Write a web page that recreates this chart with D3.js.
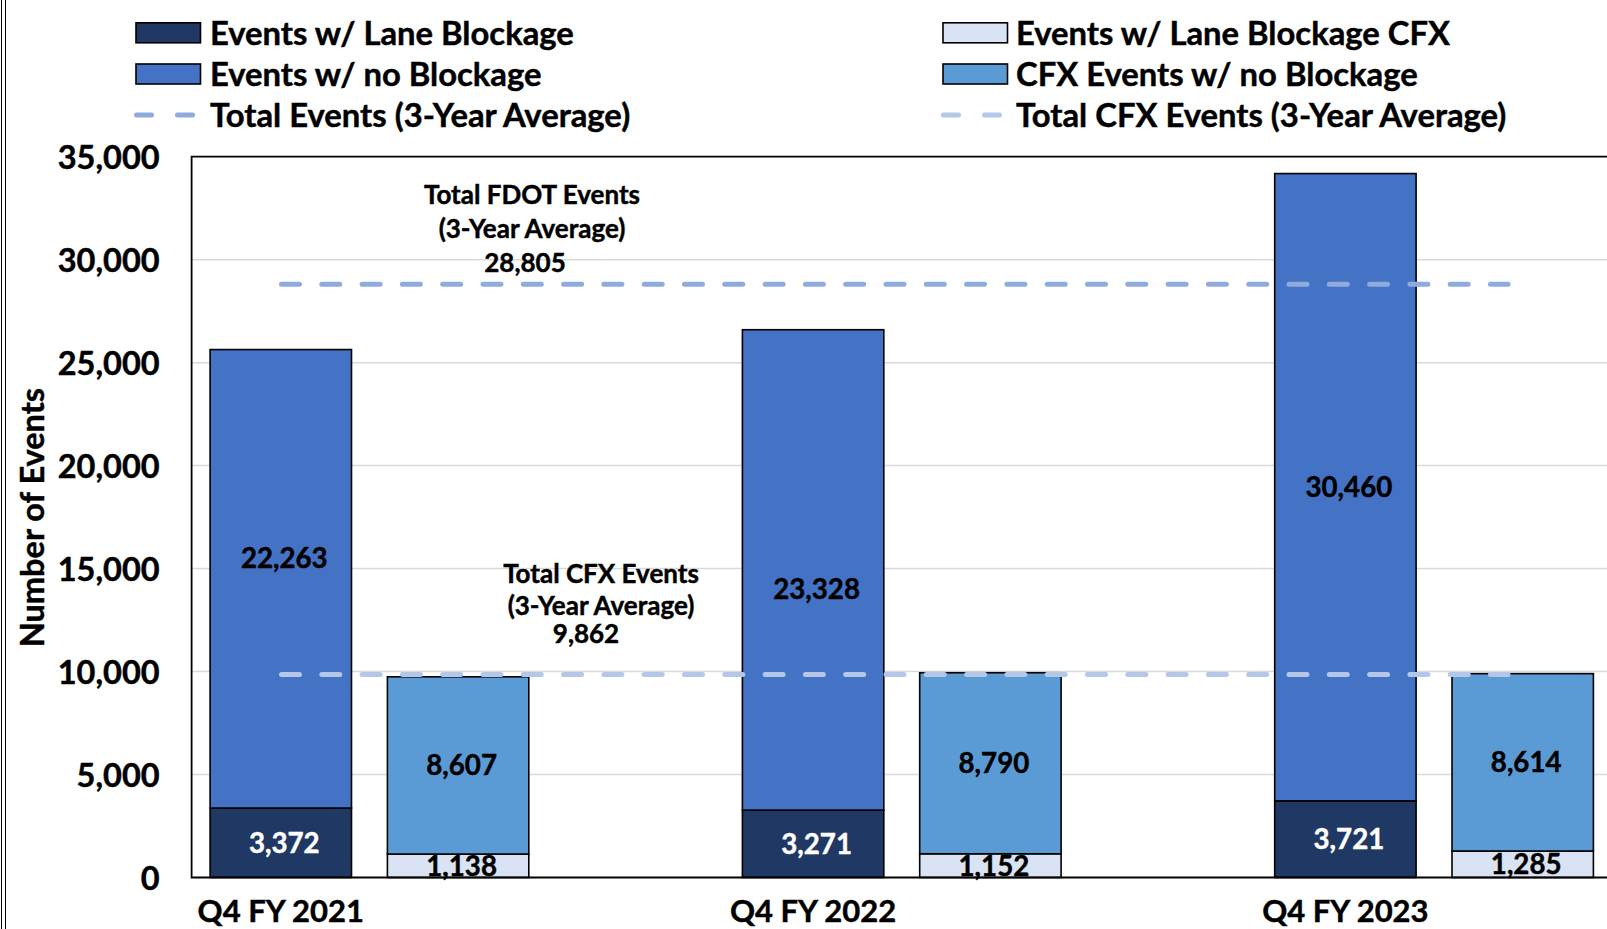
<!DOCTYPE html>
<html>
<head>
<meta charset="utf-8">
<script src="https://cdn.jsdelivr.net/npm/d3@7/dist/d3.min.js"></script>
<style>
  html, body { margin: 0; padding: 0; background: #fff; }
  svg { display: block; font-family: Lato, "Open Sans", sans-serif; font-weight: 700; }
  text.heavy { stroke: #000; stroke-width: 0.45px; }
  text.heavyW { stroke: #fff; stroke-width: 0.45px; }
</style>
</head>
<body>
<svg id="chart" width="1607" height="929"></svg>
<script>
// ---------- data ----------
const categories = ["Q4 FY 2021", "Q4 FY 2022", "Q4 FY 2023"];
const fdotLaneBlockage = [3372, 3271, 3721];
const fdotNoBlockage = [22263, 23328, 30460];
const cfxLaneBlockage = [1138, 1152, 1285];
const cfxNoBlockage = [8607, 8790, 8614];
const fdotAverage = 28805;
const cfxAverage = 9862;
// where the "no blockage" labels sit (value on the axis); null = centred in segment
const fdotNoBlockageLabelAt = [15500, 14000, null];
const yTicks = [0, 5000, 10000, 15000, 20000, 25000, 30000, 35000];
const legendLabels = [
  "Events w/ Lane Blockage", "Events w/ no Blockage", "Total Events (3-Year Average)",
  "Events w/ Lane Blockage CFX", "CFX Events w/ no Blockage", "Total CFX Events (3-Year Average)"
];

// ---------- styles ----------
const C = {
  laneFdot: "#203864",
  noFdot: "#4472c4",
  laneCfx: "#dae3f3",
  noCfx: "#5b9bd5",
  avgFdot: "#8faadc",
  avgCfx: "#b4c7e7",
  grid: "#d9d9d9"
};

const svg = d3.select("#chart");
const W = 1607, H = 929;
const plot = { left: 191.6, top: 156.7, bottom: 877.5 };
const catStep = 532.3;

const x = d3.scaleBand().domain(categories)
  .range([plot.left, plot.left + catStep * categories.length]).paddingInner(0).paddingOuter(0);
const inner = d3.scaleBand().domain(["FDOT", "CFX"])
  .range([18.5, 18.5 + 318.7]).paddingInner(0.2025).paddingOuter(0);
const y = d3.scaleLinear().domain([0, 35000]).range([plot.bottom, plot.top]);
const fmt = d3.format(",");

// outer chart border (double line at left)
svg.append("line").attr("x1", 1.5).attr("x2", 1.5).attr("y1", 0).attr("y2", H).attr("stroke", "#000").attr("stroke-width", 1);
svg.append("line").attr("x1", 5.5).attr("x2", 5.5).attr("y1", 0).attr("y2", H).attr("stroke", "#000").attr("stroke-width", 1);

// gridlines
svg.append("g").selectAll("line").data(yTicks.filter(d => d > 0 && d < 35000)).join("line")
  .attr("x1", plot.left).attr("x2", W + 5)
  .attr("y1", d => y(d)).attr("y2", d => y(d))
  .attr("stroke", C.grid).attr("stroke-width", 1.5);

// y axis tick labels
const yAxis = d3.axisLeft(y).tickValues(yTicks).tickFormat(fmt).tickSize(0).tickPadding(32);
const gy = svg.append("g").attr("transform", `translate(${plot.left},0)`).call(yAxis);
gy.select(".domain").remove();
gy.selectAll("text").attr("class", "heavy").attr("font-family", "Lato, sans-serif").attr("font-weight", 700)
  .attr("font-size", 32.5).attr("fill", "#000").attr("dy", "0.36em");

// bars
function stackBars(cls, key, lower, upper, colLower, colUpper) {
  const g = svg.append("g").attr("class", cls);
  categories.forEach((c, i) => {
    const bx = x(c) + inner(key), bw = inner.bandwidth();
    g.append("rect").attr("x", bx).attr("width", bw)
      .attr("y", y(lower[i])).attr("height", y(0) - y(lower[i]))
      .attr("fill", colLower).attr("stroke", "#000").attr("stroke-width", 1.6);
    g.append("rect").attr("x", bx).attr("width", bw)
      .attr("y", y(lower[i] + upper[i])).attr("height", y(lower[i]) - y(lower[i] + upper[i]))
      .attr("fill", colUpper).attr("stroke", "#000").attr("stroke-width", 1.6);
  });
}
stackBars("fdot", "FDOT", fdotLaneBlockage, fdotNoBlockage, C.laneFdot, C.noFdot);
stackBars("cfx", "CFX", cfxLaneBlockage, cfxNoBlockage, C.laneCfx, C.noCfx);

// plot frame (left, top, bottom)
svg.append("path")
  .attr("d", `M${W + 5},${plot.top}H${plot.left}V${plot.bottom}H${W + 5}`)
  .attr("fill", "none").attr("stroke", "#000").attr("stroke-width", 1.8);

// average lines
const avgX1 = x(categories[0]) + inner("FDOT") + inner.bandwidth() / 2 + 0.7;
const avgX2 = x(categories[2]) + inner("CFX") + 56;
[[fdotAverage, C.avgFdot], [cfxAverage, C.avgCfx]].forEach(([v, col]) => {
  svg.append("line").attr("x1", avgX1).attr("x2", avgX2).attr("y1", y(v)).attr("y2", y(v))
    .attr("stroke", col).attr("stroke-width", 5).attr("stroke-linecap", "round")
    .attr("stroke-dasharray", "18,22.3");
});

// data labels
const labelG = svg.append("g").attr("font-size", 27.7).attr("text-anchor", "middle");
function label(cx, v, text, col) {
  labelG.append("text").attr("class", col === "#fff" ? "heavyW" : "heavy")
    .attr("x", cx + 3.5).attr("y", y(v)).attr("dy", "0.36em")
    .attr("fill", col).text(text);
}
categories.forEach((c, i) => {
  const fx = x(c) + inner("FDOT") + inner.bandwidth() / 2;
  const cx = x(c) + inner("CFX") + inner.bandwidth() / 2;
  label(fx, fdotLaneBlockage[i] / 2, fmt(fdotLaneBlockage[i]), "#fff");
  const at = fdotNoBlockageLabelAt[i] != null ? fdotNoBlockageLabelAt[i] : fdotLaneBlockage[i] + fdotNoBlockage[i] / 2;
  label(fx, at, fmt(fdotNoBlockage[i]), "#000");
  label(cx, cfxLaneBlockage[i] / 2, fmt(cfxLaneBlockage[i]), "#000");
  label(cx, cfxLaneBlockage[i] + cfxNoBlockage[i] / 2, fmt(cfxNoBlockage[i]), "#000");
});

// annotations
const ann = svg.append("g").attr("font-size", 26).attr("text-anchor", "middle").attr("fill", "#000");
ann.append("text").attr("class", "heavy").attr("x", 532).attr("y", 203.5).text("Total FDOT Events");
ann.append("text").attr("class", "heavy").attr("x", 532).attr("y", 237.5).text("(3-Year Average)");
ann.append("text").attr("class", "heavy").attr("x", 525).attr("y", 271.5).text(fmt(fdotAverage));
ann.append("text").attr("class", "heavy").attr("x", 601).attr("y", 583.3).text("Total CFX Events");
ann.append("text").attr("class", "heavy").attr("x", 601).attr("y", 615).text("(3-Year Average)");
ann.append("text").attr("class", "heavy").attr("x", 586).attr("y", 643).text(fmt(cfxAverage));

// category labels
svg.append("g").selectAll("text").data(categories).join("text")
  .attr("class", "heavy")
  .attr("x", d => x(d) + inner("FDOT") + inner.bandwidth() / 2)
  .attr("y", 922).attr("text-anchor", "middle").attr("font-size", 31).attr("fill", "#000")
  .text(d => d);

// y axis title
svg.append("text").attr("class", "heavy").attr("transform", `translate(44,517.6) rotate(-90)`)
  .attr("text-anchor", "middle").attr("font-size", 32.5).attr("fill", "#000")
  .text("Number of Events");

// legend
const legend = svg.append("g").attr("font-size", 32.8).attr("fill", "#000");
const cols = [{ sx: 136, tx: 210 }, { sx: 943, tx: 1016 }];
const rows = [32.8, 74, 115];
const swatchFill = [C.laneFdot, C.noFdot, null, C.laneCfx, C.noCfx, null];
const lineCol = [null, null, C.avgFdot, null, null, C.avgCfx];
legendLabels.forEach((t, i) => {
  const col = cols[Math.floor(i / 3)], ry = rows[i % 3];
  if (swatchFill[i]) {
    legend.append("rect").attr("x", col.sx).attr("y", ry - 10).attr("width", 64.5).attr("height", 20)
      .attr("fill", swatchFill[i]).attr("stroke", "#000").attr("stroke-width", 1.6);
  } else {
    legend.append("line").attr("x1", col.sx + 0.5).attr("x2", col.sx + 56.5)
      .attr("y1", ry).attr("y2", ry)
      .attr("stroke", lineCol[i]).attr("stroke-width", 5).attr("stroke-linecap", "round")
      .attr("stroke-dasharray", "15,26");
  }
  legend.append("text").attr("class", "heavy").attr("x", col.tx).attr("y", ry).attr("dy", "0.36em").text(t);
});
</script>
</body>
</html>
